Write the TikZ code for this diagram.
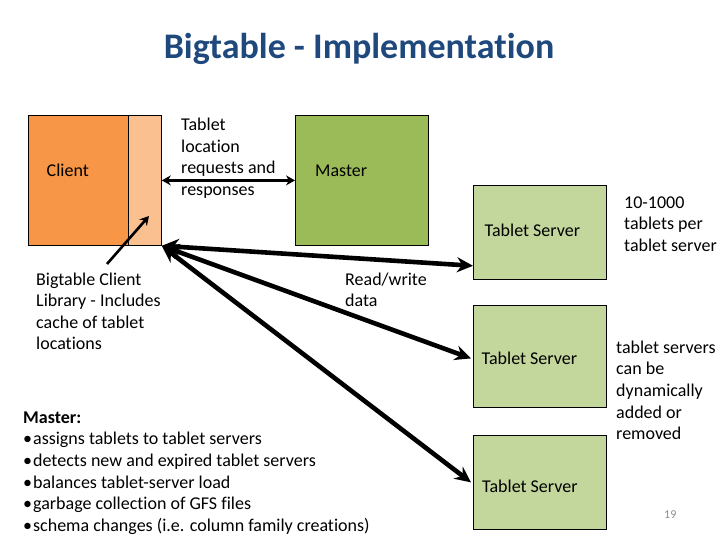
\documentclass[tikz,border=0pt]{standalone}
\usepackage{fontspec}
\setmainfont{Carlito}[Ligatures=NoCommon]
\usetikzlibrary{arrows.meta,calc}
\definecolor{titleblue}{HTML}{1F497D}
\definecolor{clientorange}{HTML}{F79646}
\definecolor{libpeach}{HTML}{FAC090}
\definecolor{mastergreen}{HTML}{9BBB59}
\definecolor{tsgreen}{HTML}{C3D69B}
\definecolor{pagegray}{HTML}{8C8C8C}
\newcommand{\blk}[1]{\vtop{\baselineskip=21.6pt\lineskiplimit=-100pt #1}}
\tikzset{
  box/.style={draw=black, line width=0.8pt, inner sep=0pt, anchor=north west},
  txt/.style={inner sep=0pt, anchor=base west, font=\fontsize{18pt}{21.6pt}\selectfont},
  thin arrow/.style={line width=2.8pt, {Stealth[length=9pt,width=10pt]}-{Stealth[length=9pt,width=10pt]}},
  one arrow/.style={line width=2.6pt, -{Stealth[length=9pt,width=10pt]}},
  thick arrow/.style={line width=4.6pt, {Stealth[length=17pt,width=16pt]}-{Stealth[length=16pt,width=15pt]}}
}
\begin{document}
\begin{tikzpicture}[x=1pt,y=-1pt]
\useasboundingbox[fill=white] (0,0) rectangle (720,540);
% title
\node[inner sep=0pt, anchor=base, font=\fontsize{36pt}{42pt}\selectfont\bfseries, text=titleblue] (title) at (359,58.3) {Bigtable - Implementation};
% boxes
\node[box, fill=clientorange, minimum width=100pt, minimum height=130pt] (client) at (28,115) {};
\node[box, fill=libpeach, minimum width=33pt, minimum height=130pt] (lib) at (128,115) {};
\node[box, fill=mastergreen, minimum width=133pt, minimum height=130pt] (master) at (295,115) {};
\node[box, fill=tsgreen, minimum width=133pt, minimum height=94pt] (ts1) at (473,185) {};
\node[box, fill=tsgreen, minimum width=133pt, minimum height=102pt] (ts2) at (473,305) {};
\node[box, fill=tsgreen, minimum width=133pt, minimum height=94pt] (ts3) at (473,435) {};
% box labels
\node[txt] (clientlbl) at (46.5,176.7) {Client};
\node[txt] (masterlbl) at (315,176.7) {Master};
\node[txt] (ts1lbl) at (484.5,236.7) {Tablet Server};
\node[txt] (ts2lbl) at (481.5,364) {Tablet Server};
\node[txt] (ts3lbl) at (482,492.7) {Tablet Server};
% free texts
\node[txt] (reqlbl) at (181,130.7) {\blk{\hbox{Tablet}\hbox{location}\hbox{requests and}\hbox{responses}}};
\node[txt] (perlbl) at (624,208.3) {\blk{\hbox{10-1000}\hbox{tablets per}\hbox{tablet server}}};
\node[txt] (dynlbl) at (616,353.3) {\blk{\hbox{tablet servers}\hbox{can be}\hbox{dynamically}\hbox{added or}\hbox{removed}}};
\node[txt] (liblbl) at (36,285) {\blk{\hbox{Bigtable Client}\hbox{Library - Includes}\hbox{cache of tablet}\hbox{locations}}};
\node[txt] (rwlbl) at (345,285) {\blk{\hbox{Read/write}\hbox{data}}};
\node[txt] (masterlist) at (23,423.3) {\blk{\hbox{\bfseries Master:}%
  \hbox{\textbullet\kern1pt assigns tablets to tablet servers}%
  \hbox{\textbullet\kern1pt detects new and expired tablet servers}%
  \hbox{\textbullet\kern1pt balances tablet-server load}%
  \hbox{\textbullet\kern1pt garbage collection of GFS files}%
  \hbox{\textbullet\kern1pt schema changes (i.e. column family creations)}}};
\node[inner sep=0pt, anchor=base west, font=\fontsize{12pt}{14pt}\selectfont, text=pagegray] (pagenum) at (664,518.3) {19};
% connectors
\draw[thin arrow] (lib.east) -- (master.west);
\coordinate (libtail) at (107,264);
\coordinate (libhead) at (149,216);
\draw[one arrow] (libtail) -- (libhead);
\draw[thick arrow] (lib.south east) -- ([yshift=14pt]ts1.south west);
\draw[thick arrow] (lib.south east) -- ([xshift=-2pt,yshift=-2pt]ts2.west);
\draw[thick arrow] (lib.south east) -- ([xshift=-2pt]ts3.west);
\end{tikzpicture}
\end{document}
